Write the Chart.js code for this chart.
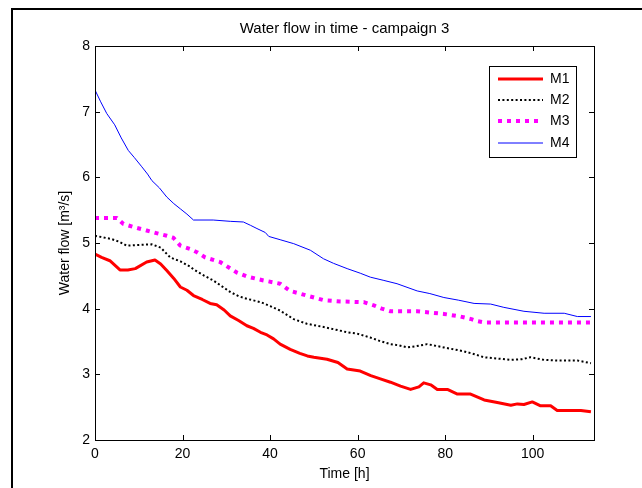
<!DOCTYPE html>
<html lang="en">
<head>
    <meta charset="UTF-8">
    <title>Water flow in time - campaign 3</title>
    <script src="https://cdn.jsdelivr.net/npm/chart.js@4.4.1/dist/chart.umd.min.js"></script>
    <style>
        html, body { margin: 0; padding: 0; background: #fff; }
        .quadro { position: relative; width: 642px; height: 488px; overflow: hidden; }
        .moldura { position: absolute; left: 11px; top: 8px; right: -10px; bottom: -10px;
                   border-top: 2px solid #000; border-left: 2px solid #000; }
        canvas { position: absolute; left: 0; top: 0; }
    </style>
</head>
<body>
    <div class="quadro">
        <div class="moldura"></div>
        <canvas id="grafico" width="642" height="488"></canvas>
    </div>

    <script>
        // valores (tempo em horas, vazao em m3/s)
        const m1Horas = [0, 1.5, 3.4, 5.7, 7.5, 9.2, 11.8, 13.7, 15, 16.4, 18, 19.5, 21, 22.5, 24.5, 26.3, 27.8, 29.5, 30.9, 32.8, 34.7, 36.2, 37.8, 39.3, 40.8, 42.3, 44.6, 46.8, 48.5, 50, 53, 55.5, 57.6, 60.6, 63, 65.2, 67.5, 69.8, 72.1, 74, 75.1, 76.7, 78.2, 80.5, 82.8, 85.8, 88.9, 91.9, 95, 96.5, 98, 99.9, 101.8, 104.1, 105.6, 108, 111, 113.3]
        const m1Vazao = [4.83, 4.78, 4.73, 4.59, 4.59, 4.61, 4.71, 4.74, 4.68, 4.58, 4.46, 4.33, 4.28, 4.20, 4.14, 4.08, 4.06, 3.98, 3.89, 3.82, 3.74, 3.70, 3.64, 3.60, 3.54, 3.46, 3.38, 3.32, 3.28, 3.26, 3.23, 3.18, 3.08, 3.05, 2.98, 2.93, 2.88, 2.82, 2.77, 2.81, 2.87, 2.84, 2.77, 2.77, 2.70, 2.70, 2.61, 2.57, 2.53, 2.55, 2.54, 2.58, 2.52, 2.52, 2.45, 2.45, 2.45, 2.43]

        const m2Horas = [0, 3.8, 5.5, 7.2, 10, 13, 15, 17.2, 19.5, 21.7, 22.5, 25, 27, 29, 31, 32.8, 34.7, 37.8, 40, 42.3, 45.4, 48.4, 51.5, 53, 55, 57.6, 59.9, 62.9, 65, 67.5, 69.5, 71.3, 73.5, 75.9, 79.7, 84.3, 86.5, 88.9, 92, 95, 97.5, 99.5, 102.6, 106, 110.2, 113.3]
        const m2Vazao = [5.11, 5.06, 5.02, 4.96, 4.97, 4.98, 4.93, 4.78, 4.72, 4.64, 4.60, 4.50, 4.43, 4.34, 4.25, 4.19, 4.15, 4.10, 4.04, 3.97, 3.84, 3.77, 3.73, 3.71, 3.68, 3.64, 3.62, 3.56, 3.51, 3.46, 3.44, 3.41, 3.43, 3.46, 3.41, 3.35, 3.31, 3.26, 3.24, 3.22, 3.23, 3.26, 3.22, 3.21, 3.21, 3.17]

        const m3Horas = [0, 3, 5, 6.5, 9, 11.8, 14, 16.4, 17.9, 19.5, 21.7, 23.3, 25.2, 28.6, 32.4, 34.7, 38.5, 40.8, 42.3, 44.6, 48.4, 52.2, 56.1, 60.6, 61.4, 63.7, 65.5, 67.5, 73.6, 79.7, 83.5, 86, 87.3, 88.9, 100, 113.3]
        const m3Vazao = [5.38, 5.38, 5.38, 5.29, 5.24, 5.19, 5.15, 5.11, 5.08, 4.96, 4.91, 4.86, 4.78, 4.71, 4.55, 4.49, 4.43, 4.40, 4.38, 4.27, 4.20, 4.13, 4.11, 4.10, 4.10, 4.05, 4.00, 3.96, 3.96, 3.92, 3.88, 3.84, 3.81, 3.79, 3.79, 3.79]

        const m4Horas = [0, 1.3, 2.7, 4.5, 6, 7.6, 9, 10.7, 12, 13, 14.7, 16.4, 18, 19.5, 21, 22.5, 27, 30.9, 33.9, 35.5, 37, 38.9, 39.7, 42.3, 45.4, 49.2, 52.2, 54.5, 57.6, 60.6, 62.9, 66, 69, 73.6, 76.5, 79.7, 83, 86.6, 90.4, 93.4, 98, 102.6, 107.2, 110.2, 113.3]
        const m4Vazao = [7.33, 7.15, 6.97, 6.80, 6.60, 6.41, 6.30, 6.16, 6.05, 5.95, 5.84, 5.70, 5.60, 5.52, 5.44, 5.35, 5.35, 5.33, 5.32, 5.27, 5.22, 5.16, 5.10, 5.05, 4.99, 4.89, 4.76, 4.69, 4.61, 4.54, 4.48, 4.43, 4.38, 4.27, 4.23, 4.17, 4.13, 4.08, 4.07, 4.02, 3.96, 3.93, 3.93, 3.88, 3.88]

        const nomes = ['M1', 'M2', 'M3', 'M4']
        const ticksX = [0, 20, 40, 60, 80, 100]
        const ticksY = [2, 3, 4, 5, 6, 7, 8]
        const titulo = 'Water flow in time - campaign 3'

        const fonte = 'Liberation Sans, Arial, Helvetica, sans-serif'

        function pontos(horas, vazao) {
            return horas.map(function (h, i) { return { x: h, y: vazao[i] } })
        }

        // titulo centrado sobre a area do grafico (como no matlab)
        const tituloEixos = {
            id: 'tituloEixos',
            afterDraw(chart) {
                const ctx = chart.ctx
                const a = chart.chartArea
                ctx.save()
                ctx.fillStyle = '#000'
                ctx.font = '15px ' + fonte
                ctx.textAlign = 'center'
                ctx.textBaseline = 'middle'
                ctx.fillText(titulo, (a.left + a.right) / 2, 29)
                ctx.restore()
            }
        }

        // caixa dos eixos com marcas para dentro
        const caixaEixos = {
            id: 'caixaEixos',
            afterDatasetsDraw(chart) {
                const ctx = chart.ctx
                const a = chart.chartArea
                const sx = chart.scales.x
                const sy = chart.scales.y
                ctx.save()
                ctx.strokeStyle = '#000'
                ctx.lineWidth = 1
                ctx.strokeRect(Math.round(a.left) + 0.5, Math.round(a.top) + 0.5,
                    Math.round(a.right - a.left), Math.round(a.bottom - a.top))
                ctx.beginPath()
                ticksX.forEach(function (v) {
                    const px = Math.round(sx.getPixelForValue(v)) + 0.5
                    ctx.moveTo(px, a.bottom); ctx.lineTo(px, a.bottom - 5)
                    ctx.moveTo(px, a.top); ctx.lineTo(px, a.top + 5)
                })
                ticksY.forEach(function (v) {
                    const py = Math.round(sy.getPixelForValue(v)) + 0.5
                    ctx.moveTo(a.left, py); ctx.lineTo(a.left + 5, py)
                    ctx.moveTo(a.right, py); ctx.lineTo(a.right - 5, py)
                })
                ctx.stroke()
                ctx.restore()
            }
        }

        // legenda no canto superior direito, dentro do grafico
        const legendaCaixa = {
            id: 'legendaCaixa',
            afterDraw(chart) {
                const ctx = chart.ctx
                ctx.save()
                ctx.fillStyle = '#fff'
                ctx.fillRect(489, 66, 87, 91)
                ctx.strokeStyle = '#000'
                ctx.lineWidth = 1
                ctx.strokeRect(489.5, 66.5, 87, 91)
                const linhas = [79, 100, 121, 143]
                chart.data.datasets.forEach(function (ds, i) {
                    const y = linhas[i]
                    ctx.beginPath()
                    ctx.strokeStyle = ds.borderColor
                    ctx.lineWidth = ds.borderWidth
                    ctx.setLineDash(ds.borderDash || [])
                    ctx.moveTo(498, y)
                    ctx.lineTo(543, y)
                    ctx.stroke()
                    ctx.setLineDash([])
                    ctx.fillStyle = '#000'
                    ctx.font = '14px ' + fonte
                    ctx.textAlign = 'left'
                    ctx.textBaseline = 'middle'
                    ctx.fillText(ds.label, 550, y)
                })
                ctx.restore()
            }
        }

        new Chart(document.getElementById('grafico'), {
            type: 'line',
            data: {
                datasets: [
                    { label: nomes[0], data: pontos(m1Horas, m1Vazao), borderColor: '#ff0000', borderWidth: 3 },
                    { label: nomes[1], data: pontos(m2Horas, m2Vazao), borderColor: '#000000', borderWidth: 2, borderDash: [2, 2.4] },
                    { label: nomes[2], data: pontos(m3Horas, m3Vazao), borderColor: '#ff00ff', borderWidth: 4, borderDash: [4, 5] },
                    { label: nomes[3], data: pontos(m4Horas, m4Vazao), borderColor: '#0000ff', borderWidth: 1 }
                ]
            },
            options: {
                responsive: false,
                animation: false,
                layout: { padding: { left: 0, top: 46, right: 48, bottom: 0 } },
                elements: { point: { radius: 0 }, line: { tension: 0, borderJoinStyle: 'round' } },
                plugins: {
                    legend: { display: false },
                    tooltip: { enabled: false },
                    title: { display: false }
                },
                scales: {
                    x: {
                        type: 'linear',
                        min: 0,
                        max: 114,
                        grid: { display: false, drawTicks: false },
                        border: { display: false },
                        afterBuildTicks: function (s) { s.ticks = ticksX.map(function (v) { return { value: v } }) },
                        afterFit: function (s) { s.height = 48 },
                        ticks: { color: '#000', padding: 6, maxRotation: 0, font: { family: fonte, size: 14 } },
                        title: {
                            display: true, text: 'Time [h]', color: '#000',
                            font: { family: fonte, size: 14 }, padding: { top: 0, bottom: 5 }
                        }
                    },
                    y: {
                        min: 2,
                        max: 8,
                        grid: { display: false, drawTicks: false },
                        border: { display: false },
                        afterBuildTicks: function (s) { s.ticks = ticksY.map(function (v) { return { value: v } }) },
                        afterFit: function (s) { s.width = 95 },
                        ticks: { color: '#000', padding: 5, font: { family: fonte, size: 14 } },
                        title: {
                            display: true, text: 'Water flow [m³/s]', color: '#000',
                            font: { family: fonte, size: 14 }, padding: { top: 57, bottom: 0 }
                        }
                    }
                }
            },
            plugins: [caixaEixos, legendaCaixa, tituloEixos]
        })
    </script>
</body>
</html>
